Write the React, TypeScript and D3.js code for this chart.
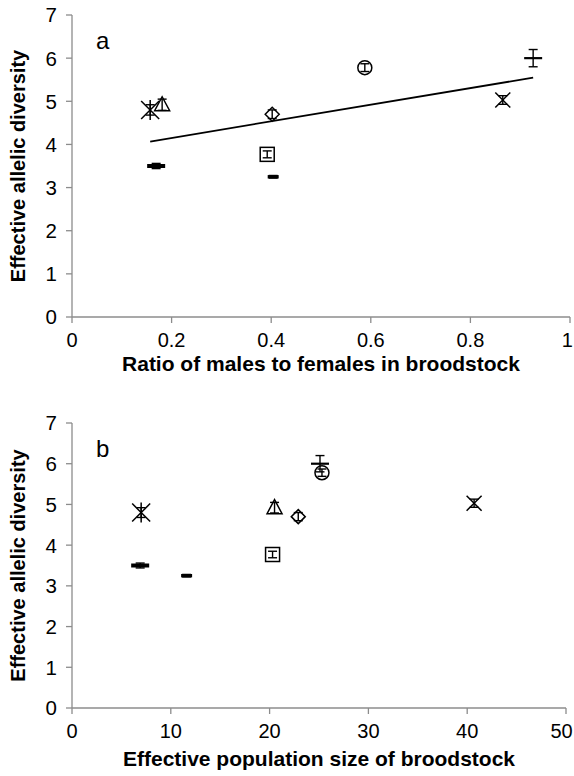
import * as d3 from 'd3'

// marker kind for each broodstock group (same order in every array)
const markers = ['star', 'triangle', 'diamond', 'circle', 'ibeam', 'xmark', 'dash', 'square', 'smalldash']
const sexRatio = [0.157, 0.181, 0.402, 0.588, 0.926, 0.865, 0.169, 0.392, 0.404]
const effSize = [7.0, 20.5, 22.9, 25.3, 25.1, 40.7, 6.9, 20.3, 11.6]
const allelicDiv = [4.8, 4.92, 4.7, 5.78, 6.0, 5.03, 3.5, 3.77, 3.25]
const allelicErr = [0.12, 0.13, 0.1, 0.09, 0.2, 0.1, 0.06, 0.08, 0.03]

const yTicks = [0, 1, 2, 3, 4, 5, 6, 7]
const ratioTicks = [0, 0.2, 0.4, 0.6, 0.8, 1]
const sizeTicks = [0, 10, 20, 30, 40, 50]

const FONT = 'Liberation Sans, Arial, sans-serif'
const AXIS = '#8c8c8c'

function Marker({ kind, x, y }: { kind: string; x: number; y: number }) {
  const sw = 1.5
  switch (kind) {
    case 'star':
      return (
        <g stroke="#000" strokeWidth={sw}>
          <line x1={x - 9} y1={y - 9} x2={x + 9} y2={y + 9} />
          <line x1={x - 9} y1={y + 9} x2={x + 9} y2={y - 9} />
          <line x1={x} y1={y - 10} x2={x} y2={y + 10} />
        </g>
      )
    case 'triangle':
      return <path d={`M${x},${y - 8}L${x + 7.5},${y + 6}L${x - 7.5},${y + 6}Z`} fill="#fff" stroke="#000" strokeWidth={sw} />
    case 'diamond':
      return <path d={`M${x},${y - 7}L${x + 7},${y}L${x},${y + 7}L${x - 7},${y}Z`} fill="#fff" stroke="#000" strokeWidth={sw} />
    case 'circle':
      return <circle cx={x} cy={y} r={7} fill="#fff" stroke="#000" strokeWidth={sw} />
    case 'ibeam':
      return <line x1={x - 9} y1={y} x2={x + 9} y2={y} stroke="#000" strokeWidth={2.2} />
    case 'xmark':
      return (
        <g stroke="#000" strokeWidth={sw}>
          <line x1={x - 7.5} y1={y - 7.5} x2={x + 7.5} y2={y + 7.5} />
          <line x1={x - 7.5} y1={y + 7.5} x2={x + 7.5} y2={y - 7.5} />
        </g>
      )
    case 'dash':
      return <rect x={x - 9} y={y - 2} width={18} height={4} fill="#000" />
    case 'square':
      return <rect x={x - 7} y={y - 7} width={14} height={14} fill="#fff" stroke="#000" strokeWidth={sw} />
    case 'smalldash':
      return <rect x={x - 5.5} y={y - 1.7} width={11} height={3.4} fill="#000" />
  }
  return null
}

function Panel({ xs, ticks, domain, left, right, top, bottom, label, title, titleY, trend }: any) {
  const x = d3.scaleLinear().domain(domain).range([left, right])
  const y = d3.scaleLinear().domain([0, 7]).range([bottom, top])

  let trendLine = null
  if (trend) {
    const mx = d3.mean(xs) as number
    const my = d3.mean(allelicDiv) as number
    const sxy = d3.sum(xs, (v: number, i: number) => (v - mx) * (allelicDiv[i] - my))
    const sxx = d3.sum(xs, (v: number) => (v - mx) * (v - mx))
    const b = sxy / sxx
    const a = my - b * mx
    const ext = d3.extent(xs) as [number, number]
    const line = d3.line<number>().x(v => x(v)).y(v => y(a + b * v))
    trendLine = <path d={line(ext) || ''} fill="none" stroke="#000" strokeWidth={1.8} />
  }

  return (
    <g>
      <line x1={left} y1={top} x2={left} y2={bottom} stroke={AXIS} strokeWidth={1.3} />
      <line x1={left} y1={bottom} x2={right} y2={bottom} stroke={AXIS} strokeWidth={1.3} />
      {yTicks.map(t => (
        <g key={'y' + t}>
          <line x1={left - 6} x2={left} y1={y(t)} y2={y(t)} stroke={AXIS} strokeWidth={1.3} />
          <text x={left - 15} y={y(t)} dy="0.36em" textAnchor="end" fontSize={20.5} fontFamily={FONT}>{t}</text>
        </g>
      ))}
      {ticks.map((t: number) => {
        const lab = String(t)
        const half = lab.length * 5.7
        const tx = Math.min(x(t), 573 - half)
        return (
          <g key={'x' + t}>
            <line x1={x(t)} x2={x(t)} y1={bottom} y2={bottom + 6} stroke={AXIS} strokeWidth={1.3} />
            <text x={tx} y={bottom + 30} textAnchor="middle" fontSize={20} fontFamily={FONT}>{lab}</text>
          </g>
        )
      })}
      <text x={96} y={top + 34} fontSize={24} fontFamily={FONT}>{label}</text>
      <text
        transform={`translate(25,${(top + bottom) / 2}) rotate(-90)`}
        textAnchor="middle" fontSize={20} fontWeight="bold" fontFamily={FONT}
      >Effective allelic diversity</text>
      <text x={(left + right) / 2} y={titleY} textAnchor="middle" fontSize={21} fontWeight="bold" fontFamily={FONT}>{title}</text>
      {trendLine}
      {xs.map((v: number, i: number) => {
        const cx = x(v)
        const cy = y(allelicDiv[i])
        const hi = y(allelicDiv[i] + allelicErr[i])
        const lo = y(allelicDiv[i] - allelicErr[i])
        return (
          <g key={i}>
            <Marker kind={markers[i]} x={cx} y={cy} />
            <g stroke="#000" strokeWidth={1.4}>
              <line x1={cx} x2={cx} y1={hi} y2={lo} />
              <line x1={cx - 4.5} x2={cx + 4.5} y1={hi} y2={hi} />
              <line x1={cx - 4.5} x2={cx + 4.5} y1={lo} y2={lo} />
            </g>
          </g>
        )
      })}
    </g>
  )
}

export default function App() {
  return (
    <svg width={574} height={776} style={{ position: 'absolute', left: 0, top: 0, background: '#fff' }}>
      <rect width={574} height={776} fill="#fff" />
      <Panel xs={sexRatio} ticks={ratioTicks} domain={[0, 1]} left={72} right={570} top={15} bottom={317}
        label="a" title="Ratio of males to females in broodstock" titleY={371} trend />
      <Panel xs={effSize} ticks={sizeTicks} domain={[0, 50]} left={72} right={566} top={423} bottom={708}
        label="b" title="Effective population size of broodstock" titleY={766} />
    </svg>
  )
}
